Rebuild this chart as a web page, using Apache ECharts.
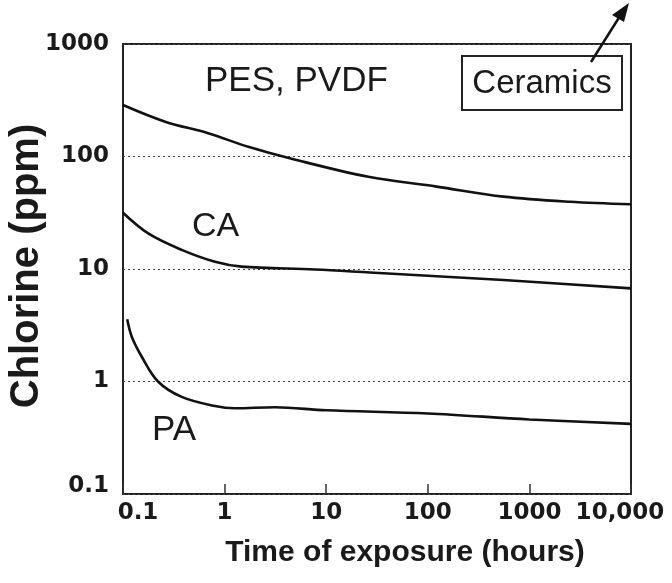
<!DOCTYPE html>
<html>
<head>
<meta charset="utf-8">
<script src="https://cdn.jsdelivr.net/npm/echarts@6/dist/echarts.min.js"></script>
<style>
  html, body { margin: 0; padding: 0; background: #fff; }
  #chart { width: 672px; height: 583px; }
</style>
</head>
<body>
<div id="chart"></div>
<script>
// x tick labels, one per decade from 0.1 to 10,000
const xTickLabels = ["0.1", "1", "10", "100", "1000", "10,000"];
const yTickLabels = ["0.1", "1", "10", "100", "1000"];

// PES, PVDF
const pesTime = [0.1, 0.26, 0.69, 1.71, 4.57, 26, 122, 555, 2512, 10000];
const pesCl = [287, 204, 161, 122, 95.5, 66, 54, 44, 39.6, 37.6];

// CA
const caTime = [0.1, 0.177, 0.378, 0.805, 1.47, 7.76, 27, 555, 10000];
const caCl = [31.6, 20.7, 14.8, 11.6, 10.5, 9.9, 9.3, 7.98, 6.73];

// PA
const paTime = [0.11, 0.122, 0.153, 0.221, 0.378, 0.805, 1.26, 3.13, 10, 100, 1000, 10000];
const paCl = [3.57, 2.5, 1.66, 1.0, 0.73, 0.605, 0.578, 0.59, 0.555, 0.52, 0.46, 0.42];

const pairs = (xs, ys) => xs.map((x, i) => [x, ys[i]]);
const decade = (v) => Math.round(Math.log10(v));

const tickFont = { fontSize: 23, fontWeight: "bold", color: "#1a1a1a", fontFamily: "DejaVu Sans" };
const textFont = "Liberation Sans, Arial, sans-serif";

const chart = echarts.init(document.getElementById("chart"));

const lineSeries = (name, data) => ({
  name,
  type: "line",
  data,
  smooth: 0.35,
  showSymbol: false,
  lineStyle: { color: "#111", width: 2.6 },
  z: 3,
});

chart.setOption({
  animation: false,
  backgroundColor: "#fff",
  textStyle: { fontFamily: textFont },
  grid: {
    left: 123, right: 41, top: 44, bottom: 89,
    show: true, borderColor: "#222", borderWidth: 2,
  },
  xAxis: {
    type: "log",
    logBase: 10,
    min: 0.1,
    max: 10000,
    axisLine: { show: false },
    axisTick: { show: true, inside: true, length: 10, lineStyle: { color: "#333", width: 1.5 } },
    splitLine: { show: false },
    axisLabel: {
      ...tickFont,
      margin: 8,
      formatter: (v) => {
        const i = decade(v) + 1;
        if (i === 0) return "{first|" + xTickLabels[i] + "}";
        if (i === xTickLabels.length - 1) return "{last|" + xTickLabels[i] + "}";
        return xTickLabels[i];
      },
      rich: {
        first: { ...tickFont, padding: [0, 0, 6, 30] },
        last: { ...tickFont, padding: [0, 22, 0, 0] },
      },
    },
  },
  yAxis: {
    type: "log",
    logBase: 10,
    min: 0.1,
    max: 1000,
    axisLine: { show: false },
    axisTick: { show: false },
    splitLine: { show: true, lineStyle: { color: "#444", type: [2, 3], width: 1.2 } },
    axisLabel: {
      ...tickFont,
      margin: 14,
      formatter: (v) => {
        const i = decade(v) + 1;
        return i === 0 ? "{low|" + yTickLabels[i] + "}" : yTickLabels[i];
      },
      rich: {
        low: { ...tickFont, padding: [0, 0, 16, 0] },
      },
    },
  },
  series: [
    lineSeries("PES, PVDF", pairs(pesTime, pesCl)),
    lineSeries("CA", pairs(caTime, caCl)),
    lineSeries("PA", pairs(paTime, paCl)),
  ],
  graphic: [
    // axis titles
    {
      type: "text", x: 405, y: 553, z: 5,
      style: { text: "Time of exposure (hours)", fontSize: 30, fontWeight: "bold", fill: "#1a1a1a", fontFamily: textFont, align: "center", verticalAlign: "middle" },
    },
    {
      type: "text", x: 27, y: 266, rotation: Math.PI / 2, z: 5,
      style: { text: "Chlorine (ppm)", fontSize: 40, fontWeight: "bold", fill: "#1a1a1a", fontFamily: textFont, align: "center", verticalAlign: "middle" },
    },
    // curve labels
    { type: "text", left: 205, top: 64, style: { text: "PES, PVDF", fontSize: 35, fill: "#1a1a1a", fontFamily: textFont } },
    { type: "text", left: 192, top: 210, style: { text: "CA", fontSize: 34, fill: "#1a1a1a", fontFamily: textFont } },
    { type: "text", left: 152, top: 413, style: { text: "PA", fontSize: 35, fill: "#1a1a1a", fontFamily: textFont } },
    // Ceramics box with arrow
    { type: "rect", shape: { x: 462, y: 56, width: 160, height: 54 }, style: { fill: "#fff", stroke: "#222", lineWidth: 2 }, z: 10 },
    {
      type: "text", x: 542, y: 84, z: 11,
      style: { text: "Ceramics", fontSize: 33, fill: "#1a1a1a", fontFamily: textFont, align: "center", verticalAlign: "middle" },
    },
    { type: "line", shape: { x1: 591, y1: 62, x2: 620, y2: 16 }, style: { stroke: "#111", lineWidth: 2.5 }, z: 11 },
    { type: "polygon", shape: { points: [[629, 3], [612, 15], [624, 22]] }, style: { fill: "#111" }, z: 11 },
  ],
});
</script>
</body>
</html>
